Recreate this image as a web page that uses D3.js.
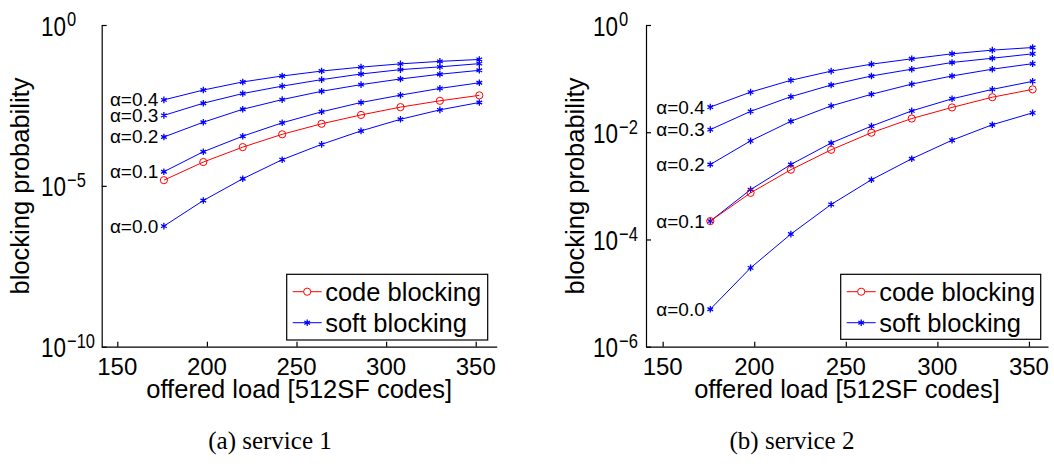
<!DOCTYPE html>
<html><head><meta charset="utf-8">
<script src="https://cdn.jsdelivr.net/npm/d3@7"></script>
<style>
html,body{margin:0;padding:0;background:#fff;}
svg{display:block;}
text{font-family:"Liberation Sans",Arial,Helvetica,sans-serif;fill:#000;}
</style></head>
<body>
<svg id="c" width="1054" height="470"></svg>
<script>
// ---- data ----
const loads = [176, 198, 220, 242, 264, 286, 308, 330, 352];
const xTicks = [150, 200, 250, 300, 350];
const alphaLabels = ["α=0.4", "α=0.3", "α=0.2", "α=0.1", "α=0.0"];
const legendLabels = ["code blocking", "soft blocking"];
const captions = ["(a) service 1", "(b) service 2"];
const xLabel = "offered load [512SF codes]";
const yLabel = "blocking probability";

// service 1
const s1Soft04 = [4.7e-3, 9.5e-3, 1.7e-2, 2.6e-2, 3.7e-2, 4.9e-2, 6.2e-2, 7.4e-2, 8.5e-2];
const s1Soft03 = [1.55e-3, 3.7e-3, 7.4e-3, 1.26e-2, 2.0e-2, 3.0e-2, 4.1e-2, 5.0e-2, 6.3e-2];
const s1Soft02 = [3.3e-4, 9.5e-4, 2.4e-3, 4.8e-3, 8.7e-3, 1.4e-2, 2.1e-2, 2.95e-2, 3.9e-2];
const s1Soft01 = [2.75e-5, 1.15e-4, 3.5e-4, 9.1e-4, 2.0e-3, 3.9e-3, 6.6e-3, 1.07e-2, 1.6e-2];
const s1Soft00 = [5.6e-7, 3.5e-6, 1.66e-5, 6.5e-5, 1.95e-4, 5.1e-4, 1.17e-3, 2.3e-3, 3.9e-3];
const s1Code   = [1.5e-5, 5.5e-5, 1.6e-4, 4.0e-4, 8.5e-4, 1.6e-3, 2.8e-3, 4.4e-3, 6.5e-3];
const s1YTicks = [1e-10, 1e-5, 1];
const s1YExp = ["−10", "−5", "0"];

// service 2
const s2Soft04 = [2.95e-2, 5.6e-2, 9.3e-2, 1.38e-1, 1.86e-1, 2.34e-1, 2.9e-1, 3.4e-1, 3.8e-1];
const s2Soft03 = [1.12e-2, 2.45e-2, 4.6e-2, 7.6e-2, 1.12e-1, 1.5e-1, 2.0e-1, 2.4e-1, 2.9e-1];
const s2Soft02 = [2.5e-3, 6.9e-3, 1.6e-2, 3.1e-2, 5.1e-2, 7.9e-2, 1.12e-1, 1.5e-1, 1.9e-1];
const s2Soft01 = [2.2e-4, 8.5e-4, 2.5e-3, 6.3e-3, 1.3e-2, 2.5e-2, 4.2e-2, 6.3e-2, 8.9e-2];
const s2Soft00 = [5.0e-6, 2.95e-5, 1.26e-4, 4.5e-4, 1.3e-3, 3.2e-3, 7.1e-3, 1.38e-2, 2.3e-2];
const s2Code   = [2.2e-4, 7.4e-4, 2.0e-3, 4.7e-3, 9.8e-3, 1.8e-2, 2.9e-2, 4.5e-2, 6.3e-2];
const s2YTicks = [1e-6, 1e-4, 1e-2, 1];
const s2YExp = ["−6", "−4", "−2", "0"];

// ---- drawing ----
const svg = d3.select("#c");
const BLUE = "#0000ff", RED = "#ff0000";

const panels = [
  {soft:[s1Soft04,s1Soft03,s1Soft02,s1Soft01,s1Soft00], code:s1Code,
   xDom:[141.3,361.7], xRange:[101.7,496.7], yDom:[1e-10,1], yTicks:s1YTicks, yExp:s1YExp,
   tickLabelX:41, yLabelX:29, legend:{x:286.7,y:274.3,w:201,h:65.7}, caption:captions[0], capX:270},
  {soft:[s2Soft04,s2Soft03,s2Soft02,s2Soft01,s2Soft00], code:s2Code,
   xDom:[140.9,360.4], xRange:[646,1048], yDom:[1e-6,1], yTicks:s2YTicks, yExp:s2YExp,
   tickLabelX:593, yLabelX:584, legend:{x:840.7,y:274.3,w:200,h:65}, caption:captions[1], capX:792}
];

const yRange = [346.7, 25];
const asterisk = d3.symbol().type(d3.symbolAsterisk).size(30);

panels.forEach(p => {
  const x = d3.scaleLinear().domain(p.xDom).range(p.xRange);
  const y = d3.scaleLog().domain(p.yDom).range(yRange);
  const g = svg.append("g");

  // axes lines
  const xAxis = d3.axisBottom(x).tickValues(xTicks).tickSize(-5).tickFormat("").tickSizeOuter(0);
  g.append("g").attr("transform", `translate(0,${yRange[0]})`).call(xAxis)
    .call(s => { s.selectAll("path,line").attr("stroke","#000").attr("stroke-width",1.2); });
  const yAxis = d3.axisLeft(y).tickValues(p.yTicks).tickSize(-5).tickFormat("").tickSizeOuter(0);
  g.append("g").attr("transform", `translate(${p.xRange[0]},0)`).call(yAxis)
    .call(s => { s.selectAll("path,line").attr("stroke","#000").attr("stroke-width",1.2); });

  // x tick labels
  g.selectAll(".xtl").data(xTicks).join("text")
    .attr("x", d => x(d)).attr("y", 375).attr("text-anchor","middle")
    .attr("font-size", 24).text(d => d);

  // y tick labels 10^n
  p.yTicks.forEach((t, i) => {
    const tx = g.append("text")
      .attr("transform", `translate(${p.tickLabelX},${y(t) + 10.5}) scale(1,1.22)`)
      .attr("font-size", 22.5);
    tx.append("tspan").text("10");
    tx.append("tspan").attr("font-size", 16.5).attr("dx", 1).attr("dy", -7.5).text(p.yExp[i]);
  });

  // axis titles
  g.append("text").attr("x", (p.xRange[0] + p.xRange[1]) / 2).attr("y", 397.5)
    .attr("text-anchor","middle").attr("font-size", 25.5).text(xLabel);
  g.append("text").attr("transform", `translate(${p.yLabelX},186) rotate(-90)`)
    .attr("text-anchor","middle").attr("font-size", 25.5).text(yLabel);

  const line = d3.line().x((d, i) => x(loads[i])).y(d => y(d));

  // soft blocking curves
  p.soft.forEach((vals, k) => {
    g.append("path").datum(vals).attr("d", line)
      .attr("fill","none").attr("stroke",BLUE).attr("stroke-width",1);
    g.selectAll(null).data(vals).join("path")
      .attr("transform", (d, i) => `translate(${x(loads[i])},${y(d)})`)
      .attr("d", asterisk).attr("fill","none").attr("stroke",BLUE).attr("stroke-width",1.3);
    g.append("text").attr("x", x(loads[0]) - 5.5).attr("y", y(vals[0]) + 6.5)
      .attr("text-anchor","end").attr("font-size", 19).text(alphaLabels[k]);
  });

  // code blocking
  g.append("path").datum(p.code).attr("d", line)
    .attr("fill","none").attr("stroke",RED).attr("stroke-width",1);
  g.selectAll(null).data(p.code).join("circle")
    .attr("cx", (d, i) => x(loads[i])).attr("cy", d => y(d)).attr("r", 3.6)
    .attr("fill","none").attr("stroke",RED).attr("stroke-width",1);

  // legend
  const L = p.legend;
  const lg = g.append("g");
  lg.append("rect").attr("x", L.x).attr("y", L.y).attr("width", L.w).attr("height", L.h)
    .attr("fill","#fff").attr("stroke","#000").attr("stroke-width",1.2);
  const rows = [{c:RED, m:"o"}, {c:BLUE, m:"*"}];
  rows.forEach((r, i) => {
    const cy = L.y + 17.4 + i * 31;
    const x0 = L.x + 6, x1 = L.x + 35;
    lg.append("line").attr("x1", x0).attr("x2", x1).attr("y1", cy).attr("y2", cy)
      .attr("stroke", r.c).attr("stroke-width", 1);
    if (r.m === "o") {
      lg.append("circle").attr("cx", (x0 + x1) / 2).attr("cy", cy).attr("r", 3.6)
        .attr("fill","#fff").attr("stroke", r.c).attr("stroke-width", 1);
    } else {
      lg.append("path").attr("transform", `translate(${(x0 + x1) / 2},${cy})`)
        .attr("d", asterisk).attr("fill","none").attr("stroke", r.c).attr("stroke-width",1.3);
    }
    lg.append("text").attr("x", L.x + 38.5).attr("y", cy + 9)
      .attr("font-size", 25.5).text(legendLabels[i]);
  });

  // caption
  svg.append("text").attr("x", p.capX).attr("y", 449)
    .attr("text-anchor","middle").attr("font-size", 25)
    .style("font-family", "'Liberation Serif','DejaVu Serif',serif")
    .text(p.caption);
});
</script>
</body></html>
